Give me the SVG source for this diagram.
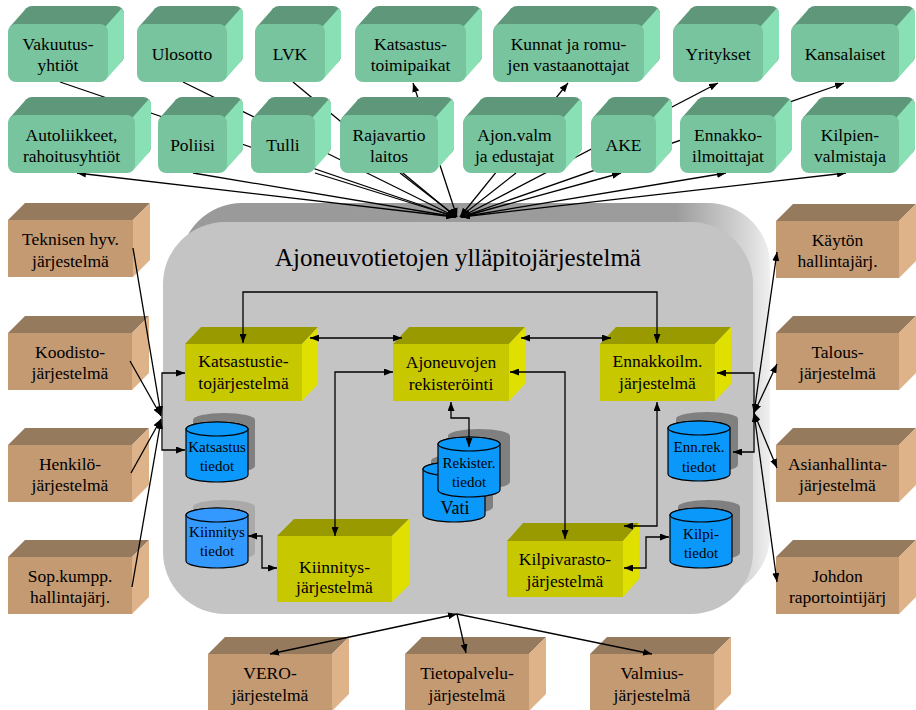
<svg xmlns="http://www.w3.org/2000/svg" xmlns:xlink="http://www.w3.org/1999/xlink" width="916" height="710" viewBox="0 0 916 710">
  <style>
    .t{font-family:"Liberation Serif","Times New Roman",serif;font-size:17.5px;text-anchor:middle;fill:#000}
    .c{font-size:15px}
    .title{font-size:25px}
    .gf{fill:#78c49f}.gt{fill:#5f977b}.gs{fill:#8ae0b5}
    .tf{fill:#c49a73}.tt{fill:#967a5e}.ts{fill:#deb389}
    .yf{fill:#c8c800}.yt{fill:#999900}.ys{fill:#e0e000}
    .cyl{fill:#0a99fa;stroke:#000;stroke-width:1.2}
    .cyl2{fill:#3399ff;stroke:#000;stroke-width:1.2}
    .sh{fill:#808080}
    .sh2{fill:#aaaaaa}
    .ln{fill:none;stroke:#000;stroke-width:1.3}
    .ln.b{marker-start:url(#ah);marker-end:url(#ah)}
    .ln.e{marker-end:url(#ah)}
  </style>
  <defs>
    <marker id="ah" viewBox="0 0 9 7" refX="9" refY="3.5" markerWidth="9" markerHeight="7" markerUnits="userSpaceOnUse" orient="auto-start-reverse">
      <path d="M0,0 L9,3.5 L0,7 Z" fill="#000"/>
    </marker>
    <linearGradient id="bevel" x1="0" y1="0" x2="1" y2="0">
      <stop offset="0" stop-color="#9a9a9a"/>
      <stop offset="0.84" stop-color="#9c9c9c"/>
      <stop offset="0.93" stop-color="#c8c8c8"/>
      <stop offset="0.97" stop-color="#dcdcdc"/>
      <stop offset="1" stop-color="#f0f0f0"/>
    </linearGradient>
    <!-- database cylinder: silhouette, top ellipse -->
    <path id="cylSil" d="M0,7 A31,7 0 0 1 62,7 V53 A31,7 0 0 1 0,53 Z"/>
    <ellipse id="cylTop" cx="31" cy="7" rx="31" ry="7"/>
  </defs>

  <rect width="916" height="710" fill="#fff"/>

  <!-- main system container -->
  <g id="system">
    <rect x="180" y="203" width="590" height="394" rx="62" fill="url(#bevel)"/>
    <rect x="163" y="222" width="590" height="392" rx="62" fill="#c4c4c4"/>
    <text class="t title" x="458" y="266">Ajoneuvotietojen ylläpitojärjestelmä</text>
  </g>

  <!-- stakeholder fan lines (run behind the stakeholder boxes) -->
  <g id="connectors-fan">
    <path class="ln e" d="M60,82 L456,217"/>
    <path class="ln e" d="M183,82 L456,217"/>
    <path class="ln e" d="M293,82 L456,217"/>
    <path class="ln b" d="M413,83 L457,217"/>
    <path class="ln b" d="M568,83 L460,217"/>
    <path class="ln b" d="M718,83 L461,217"/>
    <path class="ln b" d="M844,83 L461,217"/>
    <path class="ln b" d="M77,173 L455,217"/>
    <path class="ln e" d="M193,173 L456,217"/>
    <path class="ln e" d="M315,173 L456,217"/>
    <path class="ln e" d="M400,173 L457,217"/>
    <path class="ln e" d="M516,173 L460,217"/>
    <path class="ln b" d="M621,173 L461,217"/>
    <path class="ln b" d="M726,173 L461,217"/>
    <path class="ln b" d="M846,173 L461,217"/>
  </g>

  <!-- stakeholders, top row -->
  <g id="n-vakuutus" transform="translate(8,24)">
    <rect class="gt" x="16" y="-18" width="100" height="58" rx="8"/>
    <polygon class="gt" points="2.3,2.3 18.3,-15.7 30,-18 30,8 2.3,8"/>
    <polygon class="gs" points="97.7,2.3 113.7,-15.7 116,-11 116,33 113.7,37.7 97.7,55.7"/>
    <rect class="gf" width="100" height="58" rx="8"/>
    <text class="t" x="50" y="26">Vakuutus-</text><text class="t" x="50" y="47">yhtiöt</text>
  </g>
  <g id="n-ulosotto" transform="translate(137,24)">
    <rect class="gt" x="16" y="-18" width="90" height="58" rx="8"/>
    <polygon class="gt" points="2.3,2.3 18.3,-15.7 30,-18 30,8 2.3,8"/>
    <polygon class="gs" points="87.7,2.3 103.7,-15.7 106,-11 106,33 103.7,37.7 87.7,55.7"/>
    <rect class="gf" width="90" height="58" rx="8"/>
    <text class="t" x="45" y="36">Ulosotto</text>
  </g>
  <g id="n-lvk" transform="translate(255,24)">
    <rect class="gt" x="16" y="-18" width="70" height="58" rx="8"/>
    <polygon class="gt" points="2.3,2.3 18.3,-15.7 30,-18 30,8 2.3,8"/>
    <polygon class="gs" points="67.7,2.3 83.7,-15.7 86,-11 86,33 83.7,37.7 67.7,55.7"/>
    <rect class="gf" width="70" height="58" rx="8"/>
    <text class="t" x="35" y="36">LVK</text>
  </g>
  <g id="n-katsastustoimipaikat" transform="translate(355,24)">
    <rect class="gt" x="16" y="-18" width="111" height="58" rx="8"/>
    <polygon class="gt" points="2.3,2.3 18.3,-15.7 30,-18 30,8 2.3,8"/>
    <polygon class="gs" points="108.7,2.3 124.7,-15.7 127,-11 127,33 124.7,37.7 108.7,55.7"/>
    <rect class="gf" width="111" height="58" rx="8"/>
    <text class="t" x="55.5" y="26">Katsastus-</text><text class="t" x="55.5" y="47">toimipaikat</text>
  </g>
  <g id="n-kunnat" transform="translate(493,24)">
    <rect class="gt" x="16" y="-18" width="151" height="58" rx="8"/>
    <polygon class="gt" points="2.3,2.3 18.3,-15.7 30,-18 30,8 2.3,8"/>
    <polygon class="gs" points="148.7,2.3 164.7,-15.7 167,-11 167,33 164.7,37.7 148.7,55.7"/>
    <rect class="gf" width="151" height="58" rx="8"/>
    <text class="t" x="75.5" y="26">Kunnat ja romu-</text><text class="t" x="75.5" y="47">jen vastaanottajat</text>
  </g>
  <g id="n-yritykset" transform="translate(673,24)">
    <rect class="gt" x="16" y="-18" width="90" height="58" rx="8"/>
    <polygon class="gt" points="2.3,2.3 18.3,-15.7 30,-18 30,8 2.3,8"/>
    <polygon class="gs" points="87.7,2.3 103.7,-15.7 106,-11 106,33 103.7,37.7 87.7,55.7"/>
    <rect class="gf" width="90" height="58" rx="8"/>
    <text class="t" x="45" y="36">Yritykset</text>
  </g>
  <g id="n-kansalaiset" transform="translate(791,24)">
    <rect class="gt" x="16" y="-18" width="108" height="58" rx="8"/>
    <polygon class="gt" points="2.3,2.3 18.3,-15.7 30,-18 30,8 2.3,8"/>
    <polygon class="gs" points="105.7,2.3 121.7,-15.7 124,-11 124,33 121.7,37.7 105.7,55.7"/>
    <rect class="gf" width="108" height="58" rx="8"/>
    <text class="t" x="54" y="36">Kansalaiset</text>
  </g>

  <!-- stakeholders, second row -->
  <g id="n-autoliikkeet" transform="translate(8,115)">
    <rect class="gt" x="16" y="-18" width="127" height="58" rx="8"/>
    <polygon class="gt" points="2.3,2.3 18.3,-15.7 30,-18 30,8 2.3,8"/>
    <polygon class="gs" points="124.7,2.3 140.7,-15.7 143,-11 143,33 140.7,37.7 124.7,55.7"/>
    <rect class="gf" width="127" height="58" rx="8"/>
    <text class="t" x="63.5" y="26">Autoliikkeet,</text><text class="t" x="63.5" y="47">rahoitusyhtiöt</text>
  </g>
  <g id="n-poliisi" transform="translate(158,115)">
    <rect class="gt" x="16" y="-18" width="69" height="58" rx="8"/>
    <polygon class="gt" points="2.3,2.3 18.3,-15.7 30,-18 30,8 2.3,8"/>
    <polygon class="gs" points="66.7,2.3 82.7,-15.7 85,-11 85,33 82.7,37.7 66.7,55.7"/>
    <rect class="gf" width="69" height="58" rx="8"/>
    <text class="t" x="34.5" y="36">Poliisi</text>
  </g>
  <g id="n-tulli" transform="translate(251,115)">
    <rect class="gt" x="16" y="-18" width="64" height="58" rx="8"/>
    <polygon class="gt" points="2.3,2.3 18.3,-15.7 30,-18 30,8 2.3,8"/>
    <polygon class="gs" points="61.7,2.3 77.7,-15.7 80,-11 80,33 77.7,37.7 61.7,55.7"/>
    <rect class="gf" width="64" height="58" rx="8"/>
    <text class="t" x="32" y="36">Tulli</text>
  </g>
  <g id="n-rajavartio" transform="translate(340,115)">
    <rect class="gt" x="16" y="-18" width="98" height="58" rx="8"/>
    <polygon class="gt" points="2.3,2.3 18.3,-15.7 30,-18 30,8 2.3,8"/>
    <polygon class="gs" points="95.7,2.3 111.7,-15.7 114,-11 114,33 111.7,37.7 95.7,55.7"/>
    <rect class="gf" width="98" height="58" rx="8"/>
    <text class="t" x="49" y="26">Rajavartio</text><text class="t" x="49" y="47">laitos</text>
  </g>
  <g id="n-ajonvalm" transform="translate(463,115)">
    <rect class="gt" x="16" y="-18" width="103" height="58" rx="8"/>
    <polygon class="gt" points="2.3,2.3 18.3,-15.7 30,-18 30,8 2.3,8"/>
    <polygon class="gs" points="100.7,2.3 116.7,-15.7 119,-11 119,33 116.7,37.7 100.7,55.7"/>
    <rect class="gf" width="103" height="58" rx="8"/>
    <text class="t" x="51.5" y="26">Ajon.valm</text><text class="t" x="51.5" y="47">ja edustajat</text>
  </g>
  <g id="n-ake" transform="translate(591,115)">
    <rect class="gt" x="16" y="-18" width="65" height="58" rx="8"/>
    <polygon class="gt" points="2.3,2.3 18.3,-15.7 30,-18 30,8 2.3,8"/>
    <polygon class="gs" points="62.7,2.3 78.7,-15.7 81,-11 81,33 78.7,37.7 62.7,55.7"/>
    <rect class="gf" width="65" height="58" rx="8"/>
    <text class="t" x="32.5" y="36">AKE</text>
  </g>
  <g id="n-ennakkoilmoittajat" transform="translate(680,115)">
    <rect class="gt" x="16" y="-18" width="96" height="58" rx="8"/>
    <polygon class="gt" points="2.3,2.3 18.3,-15.7 30,-18 30,8 2.3,8"/>
    <polygon class="gs" points="93.7,2.3 109.7,-15.7 112,-11 112,33 109.7,37.7 93.7,55.7"/>
    <rect class="gf" width="96" height="58" rx="8"/>
    <text class="t" x="48" y="26">Ennakko-</text><text class="t" x="48" y="47">ilmoittajat</text>
  </g>
  <g id="n-kilpienvalmistaja" transform="translate(801,115)">
    <rect class="gt" x="16" y="-18" width="98" height="58" rx="8"/>
    <polygon class="gt" points="2.3,2.3 18.3,-15.7 30,-18 30,8 2.3,8"/>
    <polygon class="gs" points="95.7,2.3 111.7,-15.7 114,-11 114,33 111.7,37.7 95.7,55.7"/>
    <rect class="gf" width="98" height="58" rx="8"/>
    <text class="t" x="49" y="26">Kilpien-</text><text class="t" x="49" y="47">valmistaja</text>
  </g>

  <!-- external systems, left -->
  <g id="n-teknisen" transform="translate(8,220)">
    <polygon class="tt" points="0,0 17,-17 142,-17 125,0"/>
    <polygon class="ts" points="125,0 142,-17 142,40 125,57"/>
    <rect class="tf" width="125" height="57"/>
    <text class="t" x="62.5" y="25">Teknisen hyv.</text><text class="t" x="62.5" y="46.5">järjestelmä</text>
  </g>
  <g id="n-koodisto" transform="translate(8,333)">
    <polygon class="tt" points="0,0 17,-17 141,-17 124,0"/>
    <polygon class="ts" points="124,0 141,-17 141,40 124,57"/>
    <rect class="tf" width="124" height="57"/>
    <text class="t" x="62" y="24.5">Koodisto-</text><text class="t" x="62" y="46">järjestelmä</text>
  </g>
  <g id="n-henkilo" transform="translate(8,445)">
    <polygon class="tt" points="0,0 17,-17 141,-17 124,0"/>
    <polygon class="ts" points="124,0 141,-17 141,40 124,57"/>
    <rect class="tf" width="124" height="57"/>
    <text class="t" x="62" y="24.5">Henkilö-</text><text class="t" x="62" y="46">järjestelmä</text>
  </g>
  <g id="n-sopkumpp" transform="translate(8,557)">
    <polygon class="tt" points="0,0 17,-17 141,-17 124,0"/>
    <polygon class="ts" points="124,0 141,-17 141,40 124,57"/>
    <rect class="tf" width="124" height="57"/>
    <text class="t" x="62" y="24.5">Sop.kumpp.</text><text class="t" x="62" y="46">hallintajärj.</text>
  </g>

  <!-- external systems, right -->
  <g id="n-kaytonhallinta" transform="translate(776,221)">
    <polygon class="tt" points="0,0 17,-17 140,-17 123,0"/>
    <polygon class="ts" points="123,0 140,-17 140,40 123,57"/>
    <rect class="tf" width="123" height="57"/>
    <text class="t" x="61.5" y="24.5">Käytön</text><text class="t" x="61.5" y="46">hallintajärj.</text>
  </g>
  <g id="n-talous" transform="translate(776,333)">
    <polygon class="tt" points="0,0 17,-17 140,-17 123,0"/>
    <polygon class="ts" points="123,0 140,-17 140,40 123,57"/>
    <rect class="tf" width="123" height="57"/>
    <text class="t" x="61.5" y="24.5">Talous-</text><text class="t" x="61.5" y="46">järjestelmä</text>
  </g>
  <g id="n-asianhallinta" transform="translate(776,445)">
    <polygon class="tt" points="0,0 17,-17 140,-17 123,0"/>
    <polygon class="ts" points="123,0 140,-17 140,40 123,57"/>
    <rect class="tf" width="123" height="57"/>
    <text class="t" x="61.5" y="24.5">Asianhallinta-</text><text class="t" x="61.5" y="46">järjestelmä</text>
  </g>
  <g id="n-johdon" transform="translate(776,557)">
    <polygon class="tt" points="0,0 17,-17 140,-17 123,0"/>
    <polygon class="ts" points="123,0 140,-17 140,40 123,57"/>
    <rect class="tf" width="123" height="57"/>
    <text class="t" x="61.5" y="24.5">Johdon</text><text class="t" x="61.5" y="46">raportointijärj</text>
  </g>

  <!-- external systems, bottom -->
  <g id="n-vero" transform="translate(208,654)">
    <polygon class="tt" points="0,0 17,-17 141,-17 124,0"/>
    <polygon class="ts" points="124,0 141,-17 141,40 124,57"/>
    <rect class="tf" width="124" height="57"/>
    <text class="t" x="62" y="25">VERO-</text><text class="t" x="62" y="47">järjestelmä</text>
  </g>
  <g id="n-tietopalvelu" transform="translate(405,654)">
    <polygon class="tt" points="0,0 17,-17 141,-17 124,0"/>
    <polygon class="ts" points="124,0 141,-17 141,40 124,57"/>
    <rect class="tf" width="124" height="57"/>
    <text class="t" x="62" y="25">Tietopalvelu-</text><text class="t" x="62" y="47">järjestelmä</text>
  </g>
  <g id="n-valmius" transform="translate(590,654)">
    <polygon class="tt" points="0,0 17,-17 141,-17 124,0"/>
    <polygon class="ts" points="124,0 141,-17 141,40 124,57"/>
    <rect class="tf" width="124" height="57"/>
    <text class="t" x="62" y="25">Valmius-</text><text class="t" x="62" y="47">järjestelmä</text>
  </g>

  <!-- subsystems -->
  <g id="n-katsastustieto" transform="translate(185,344)">
    <polygon class="yt" points="0,0 16,-17 133,-17 117,0"/>
    <polygon class="ys" points="117,0 133,-17 133,40 117,57"/>
    <rect class="yf" width="117" height="57"/>
    <text class="t" x="58.5" y="23">Katsastustie-</text><text class="t" x="58.5" y="45">tojärjestelmä</text>
  </g>
  <g id="n-rekisterointi" transform="translate(393,344)">
    <polygon class="yt" points="0,0 16,-17 132,-17 116,0"/>
    <polygon class="ys" points="116,0 132,-17 132,40 116,57"/>
    <rect class="yf" width="116" height="57"/>
    <text class="t" x="58" y="24">Ajoneuvojen</text><text class="t" x="58" y="46">rekisteröinti</text>
  </g>
  <g id="n-ennakkoilm" transform="translate(600,344)">
    <polygon class="yt" points="0,0 16,-17 131,-17 115,0"/>
    <polygon class="ys" points="115,0 131,-17 131,40 115,57"/>
    <rect class="yf" width="115" height="57"/>
    <text class="t" x="57.5" y="23">Ennakkoilm.</text><text class="t" x="57.5" y="45">järjestelmä</text>
  </g>
  <g id="n-kiinnitys" transform="translate(277,536)">
    <polygon class="yt" points="0,0 17,-17 132,-17 115,0"/>
    <polygon class="ys" points="115,0 132,-17 132,49 115,66"/>
    <rect class="yf" width="115" height="66"/>
    <text class="t" x="57.5" y="37">Kiinnitys-</text><text class="t" x="57.5" y="57">järjestelmä</text>
  </g>
  <g id="n-kilpivarasto" transform="translate(507,541)">
    <polygon class="yt" points="0,0 16,-18 132,-18 116,0"/>
    <polygon class="ys" points="116,0 132,-18 132,38 116,56"/>
    <rect class="yf" width="116" height="56"/>
    <text class="t" x="58" y="24">Kilpivarasto-</text><text class="t" x="58" y="46">järjestelmä</text>
  </g>

  <!-- data stores -->
  <g id="d-katsastus" transform="translate(186,422)">
    <use xlink:href="#cylSil" href="#cylSil" class="sh" x="7" y="-9"/>
    <use xlink:href="#cylSil" href="#cylSil" class="cyl"/>
    <use xlink:href="#cylTop" href="#cylTop" class="cyl"/>
    <text class="t c" x="31" y="30">Katsastus</text><text class="t c" x="31" y="49">tiedot</text>
  </g>
  <g id="d-kiinnitys" transform="translate(186,508)">
    <use xlink:href="#cylSil" href="#cylSil" class="sh2" x="7" y="-8"/>
    <use xlink:href="#cylSil" href="#cylSil" class="cyl2"/>
    <use xlink:href="#cylTop" href="#cylTop" class="cyl2"/>
    <text class="t c" x="31" y="29">Kiinnitys</text><text class="t c" x="31" y="48">tiedot</text>
  </g>
  <g id="d-vati" transform="translate(423,462)">
    <use xlink:href="#cylSil" href="#cylSil" class="sh" x="8" y="-8"/>
    <use xlink:href="#cylSil" href="#cylSil" class="cyl"/>
    <use xlink:href="#cylTop" href="#cylTop" class="cyl"/>
    <text class="t" x="32" y="52" style="font-size:18px">Vati</text>
  </g>
  <g id="d-rekisteri" transform="translate(438,437)">
    <use xlink:href="#cylSil" href="#cylSil" class="sh" x="10" y="-8"/>
    <use xlink:href="#cylSil" href="#cylSil" class="cyl"/>
    <use xlink:href="#cylTop" href="#cylTop" class="cyl"/>
    <text class="t c" x="31" y="31">Rekister.</text><text class="t c" x="31" y="50">tiedot</text>
  </g>
  <g id="d-ennrek" transform="translate(668,421)">
    <use xlink:href="#cylSil" href="#cylSil" class="sh" x="8" y="-9"/>
    <use xlink:href="#cylSil" href="#cylSil" class="cyl"/>
    <use xlink:href="#cylTop" href="#cylTop" class="cyl"/>
    <text class="t c" x="31" y="31">Enn.rek.</text><text class="t c" x="31" y="51">tiedot</text>
  </g>
  <g id="d-kilpi" transform="translate(670,508)">
    <use xlink:href="#cylSil" href="#cylSil" class="sh" x="8" y="-8"/>
    <use xlink:href="#cylSil" href="#cylSil" class="cyl"/>
    <use xlink:href="#cylTop" href="#cylTop" class="cyl"/>
    <text class="t c" x="31" y="31">Kilpi-</text><text class="t c" x="31" y="50">tiedot</text>
  </g>

  <!-- connectors -->
  <g id="connectors">
    <!-- left hub -->
    <path class="ln e" d="M133,248 L161,415"/>
    <path class="ln e" d="M130,361 L161,416"/>
    <path class="ln e" d="M131,473 L161,419"/>
    <path class="ln e" d="M132,587 L161,420"/>
    <path class="ln b" d="M185,373 H162 V450 H185"/>
    <!-- right hub -->
    <path class="ln b" d="M754,413 L777,252"/>
    <path class="ln b" d="M754,413 L777,364"/>
    <path class="ln b" d="M754,413 L777,468"/>
    <path class="ln b" d="M754,413 L777,582"/>
    <path class="ln b" d="M717,373 H754 V452 H733"/>
    <!-- bottom hub -->
    <path class="ln b" d="M457,614 L270,654"/>
    <path class="ln e" d="M457,614 L466,653"/>
    <path class="ln e" d="M457,614 L652,654"/>
    <!-- internal links -->
    <path class="ln b" d="M243,343 V292 H657 V343"/>
    <path class="ln b" d="M310,338 H402"/>
    <path class="ln b" d="M521,338 H611"/>
    <path class="ln b" d="M393,372 H335 V536"/>
    <path class="ln b" d="M510,372 H565 V539"/>
    <path class="ln b" d="M451,402 V418 H469 V447"/>
    <path class="ln b" d="M657,402 V526 H624"/>
    <path class="ln b" d="M624,568 H646 V537 H669"/>
    <path class="ln b" d="M248,536 H262 V568 H277"/>
  </g>
</svg>
